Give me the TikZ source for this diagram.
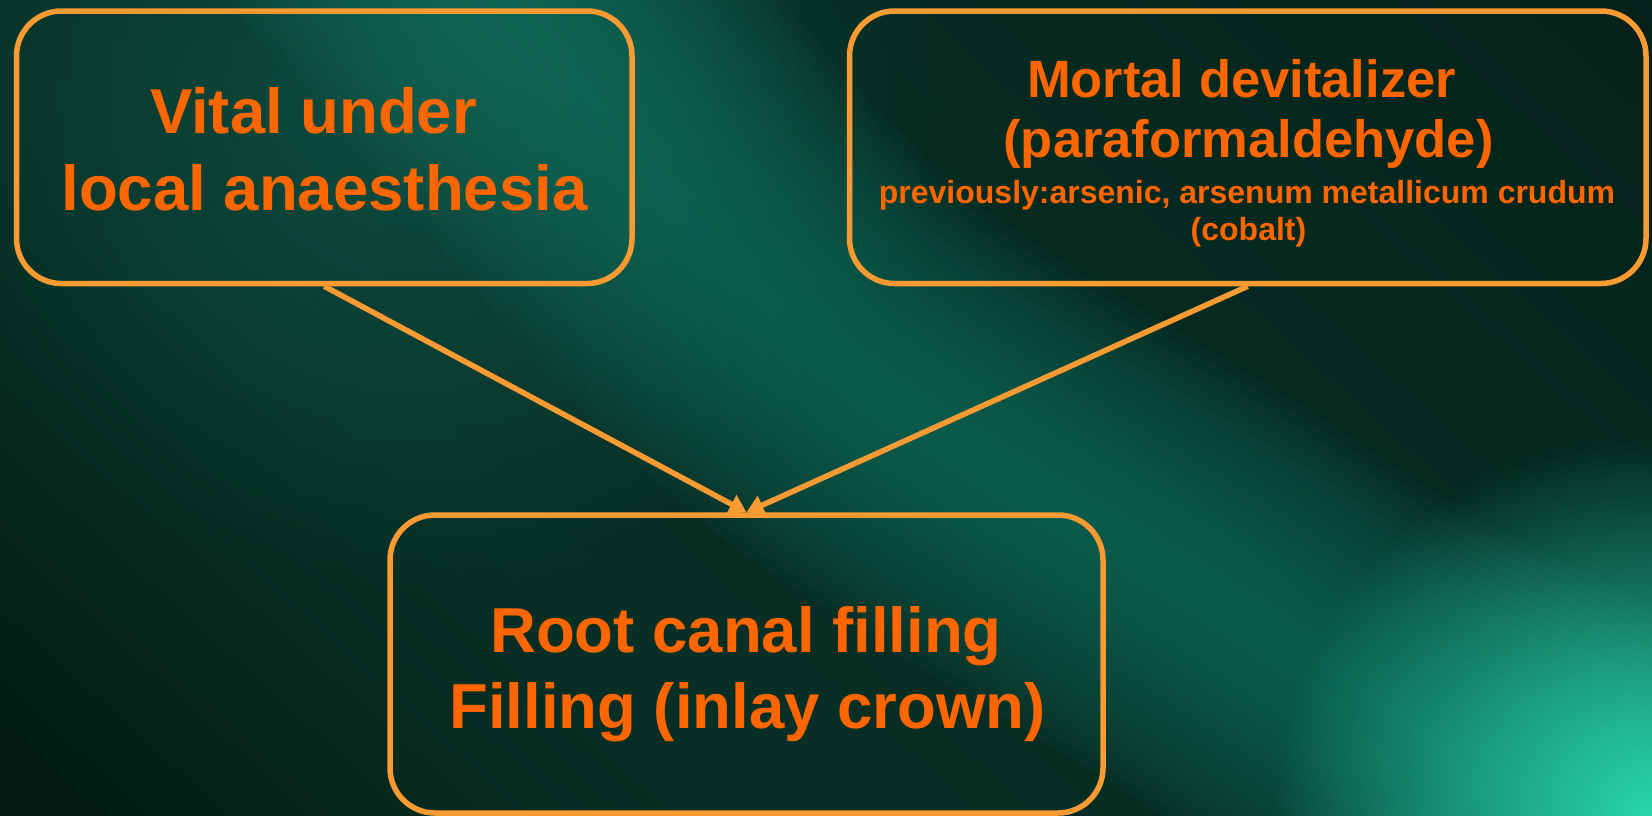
\documentclass[tikz,border=0pt]{standalone}
\usepackage{fontspec}
\setmainfont{Liberation Sans}
\usetikzlibrary{arrows.meta,fadings}
\definecolor{edge}{HTML}{FA9A32}
\definecolor{ink}{HTML}{FF6600}
\definecolor{glow}{HTML}{2AD6AE}
\definecolor{bandc}{HTML}{177060}
\definecolor{ca}{HTML}{000806}
\definecolor{cb}{HTML}{010F0B}
\definecolor{cc}{HTML}{031A14}
\definecolor{cd}{HTML}{062A20}
\definecolor{ce}{HTML}{082F26}
\definecolor{cf}{HTML}{072C22}
\definecolor{cg}{HTML}{05281F}
\definecolor{ch}{HTML}{05211A}
\definecolor{ci}{HTML}{041C16}
\pgfdeclarehorizontalshading{bgbase}{100bp}{color(0bp)=(ca); color(20bp)=(cb); color(30bp)=(cc); color(37bp)=(cd); color(42bp)=(ce); color(50bp)=(cf); color(62bp)=(cg); color(70bp)=(ch); color(80bp)=(ci); color(100bp)=(ci)}
\tikzfading[name=glowfade, inner color=transparent!0, outer color=transparent!100]
\begin{document}
\begin{tikzpicture}[x=1pt,y=-1pt,
  box/.style={draw=edge, line width=5.5pt, rounded corners=45pt, inner sep=0pt},
  big/.style={text=ink, font=\bfseries\fontsize{63.5}{76}\selectfont, anchor=base, inner sep=0pt},
  mid/.style={text=ink, font=\bfseries\fontsize{52.5}{60}\selectfont, anchor=base, inner sep=0pt},
  small/.style={text=ink, font=\bfseries\fontsize{32}{37}\selectfont, anchor=base, inner sep=0pt},
  link/.style={draw=edge, line width=5.5pt, -{Triangle[length=17pt,width=20pt]}},
  bandpath/.style={draw=bandc, line cap=round, line join=round, draw opacity=.065}]
\useasboundingbox (0,0) rectangle (1652,815);
\begin{scope}
\clip (0,0) rectangle (1652,815);
\shade[shading=bgbase, shading angle=48] (-174,-593) rectangle (1826,1407);
\foreach \w in {20,40,...,420}{
  \draw[bandpath, line width=\w pt]
    plot[smooth] coordinates {(400,-120) (560,60) (700,230) (850,370) (1000,470) (1200,590) (1400,715) (1750,880)};
}
\fill[bandc, path fading=glowfade, opacity=.5] (420,80) circle (520);
\fill[glow, path fading=glowfade] (1652,815) circle (380);
\end{scope}
\node[box, minimum width=615.5pt, minimum height=272.5pt] (lb) at (324.25,147.25) {};
\node[box, minimum width=796.5pt, minimum height=272.5pt] (rb) at (1247.75,147.25) {};
\node[box, minimum width=713pt, minimum height=298pt] (bb) at (746.5,664) {};
\node[big] (t1) at (313.5,133) {Vital under};
\node[big] (t2) at (324.5,210) {local anaesthesia};
\node[mid] (t3) at (1241.5,97) {Mortal devitalizer};
\node[mid] (t4) at (1248.5,157) {(paraformaldehyde)};
\node[small] (t5) at (1247,203) {previously:arsenic, arsenum metallicum crudum};
\node[small] (t6) at (1248.5,240) {(cobalt)};
\node[big] (t7) at (746,652) {Root canal filling};
\node[big] (t8) at (747.5,728) {Filling (inlay crown)};
\draw[link] (lb.south) -- (bb.north);
\draw[link] (rb.south) -- (bb.north);
\end{tikzpicture}
\end{document}
